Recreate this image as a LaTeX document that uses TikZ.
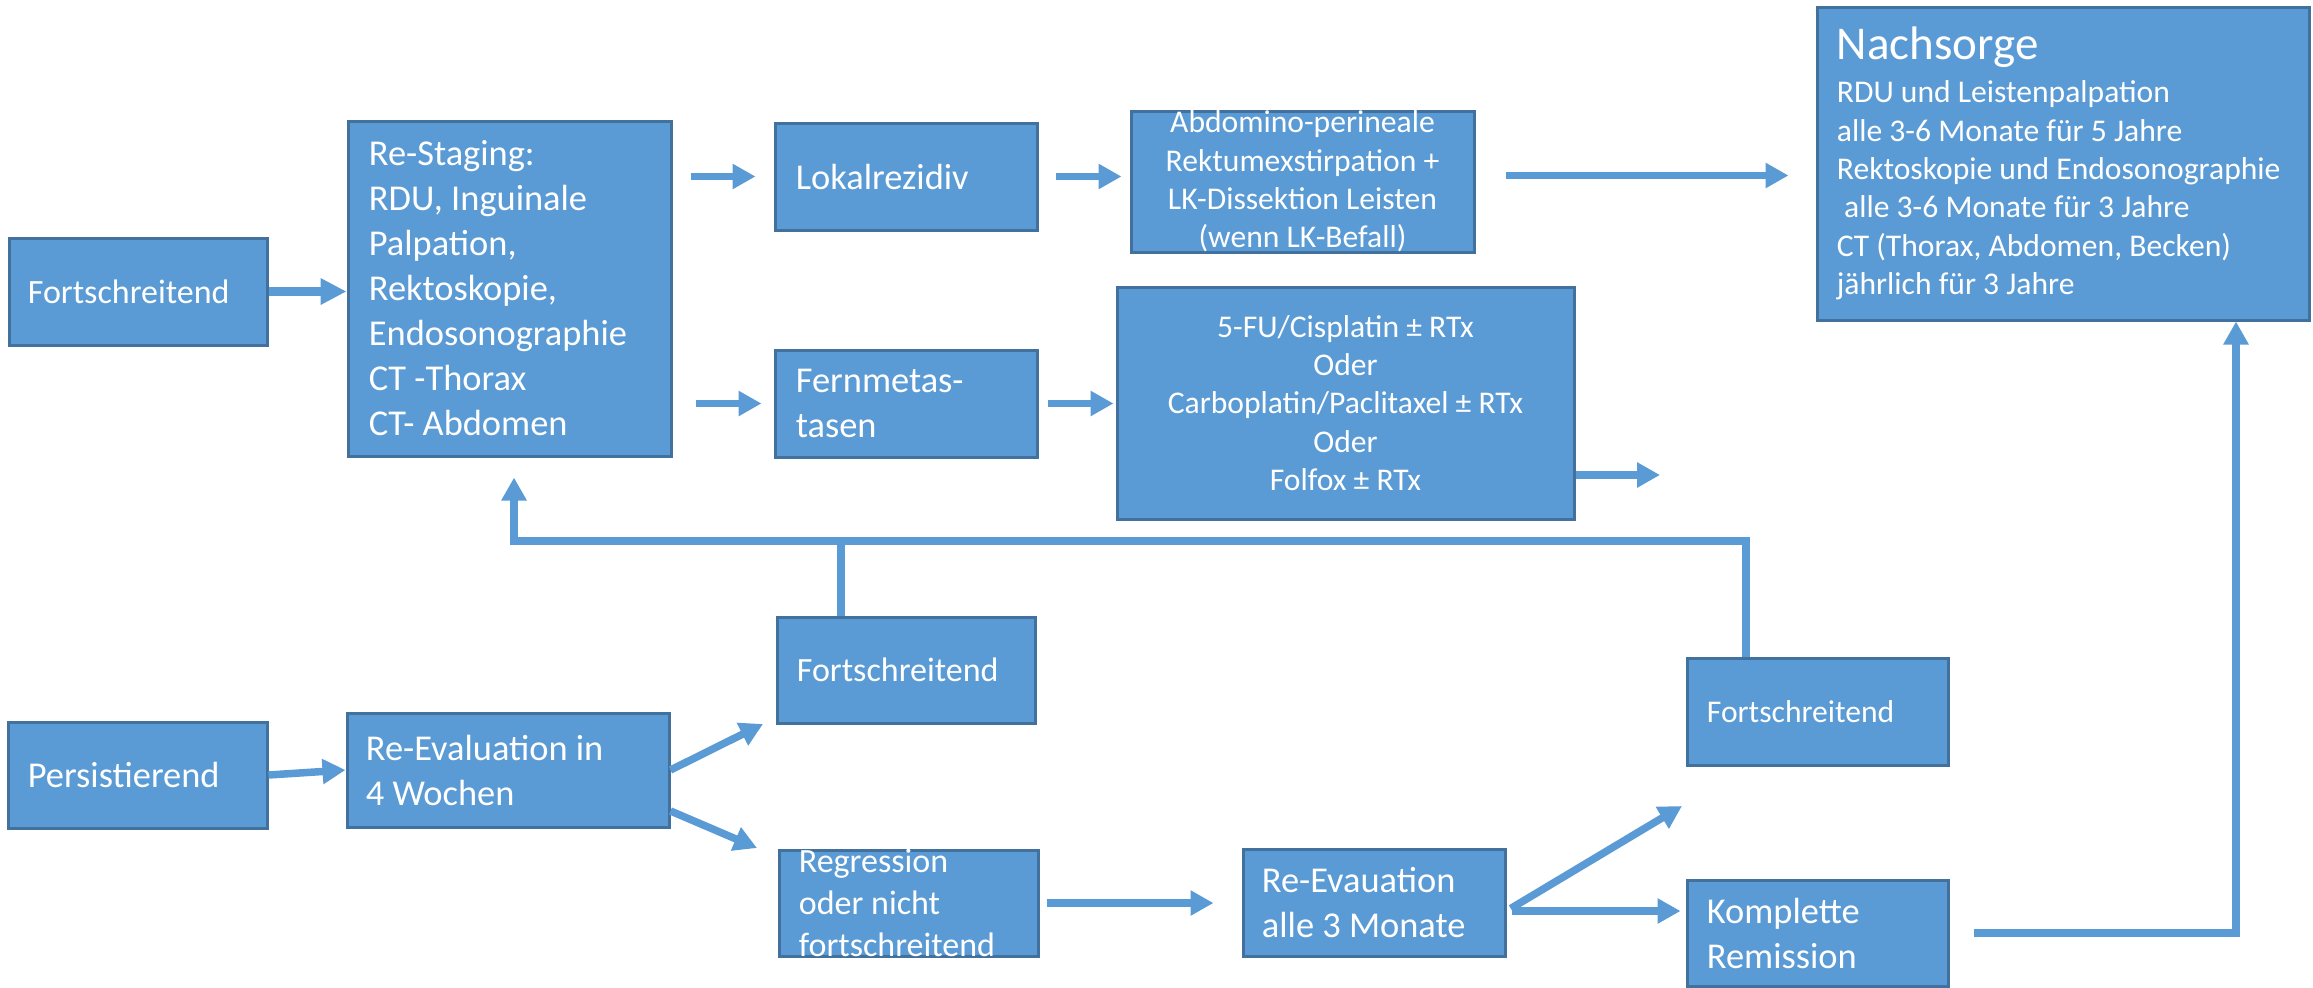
\documentclass[tikz,border=0pt]{standalone}
\usepackage{fontspec}
\setmainfont{Carlito}
\usetikzlibrary{arrows.meta,calc}
\definecolor{boxfill}{HTML}{5B9BD5}
\definecolor{boxline}{HTML}{41719C}
\definecolor{arrowc}{HTML}{5B9BD5}
\begin{document}
\begin{tikzpicture}[x=0.5pt,y=-0.5pt,
  box/.style n args={2}{draw=boxline, fill=boxfill, line width=1.5pt, inner sep=0pt, minimum width=#1, minimum height=#2},
  lbl/.style={text=white, inner sep=0pt, align=left},
  big/.style={font=\fontsize{18.2}{22.5}\selectfont},
  mid/.style={font=\fontsize{17}{21}\selectfont},
  small/.style={font=\fontsize{15.8}{19.2}\selectfont},
  conn/.style={draw=arrowc, line width=3.75pt, line join=miter},
  arr/.style={conn, -{Triangle[length=11.5pt,width=12pt]}},
  arrbig/.style={draw=arrowc, line width=4.5pt, -{Triangle[length=13pt,width=12.5pt]}},
]
\useasboundingbox (0,0) rectangle (2313,987);
\fill[white] (0,0) rectangle (2313,987);

% boxes
\node[box={129pt}{53.5pt}] (fL) at (138,291.5) {};
\node[box={161.5pt}{167.5pt}] (rs) at (509.5,288.5) {};
\node[box={131pt}{53.5pt}] (lok) at (906,176.5) {};
\node[box={171.5pt}{70.5pt}] (abd) at (1302.5,181.5) {};
\node[box={131pt}{53.5pt}] (fer) at (906,403.5) {};
\node[box={228.5pt}{116pt}] (chemo) at (1345.5,403) {};
\node[box={246pt}{156.5pt}] (nach) at (2063,163.5) {};
\node[box={129pt}{53pt}] (fM) at (906,670) {};
\node[box={129.5pt}{53pt}] (pers) at (137.5,775) {};
\node[box={161pt}{57pt}] (re4) at (508,770) {};
\node[box={129.5pt}{53pt}] (reg) at (908.5,903) {};
\node[box={131pt}{53.5pt}] (re3) at (1374,902.5) {};
\node[box={130.5pt}{53.5pt}] (fR) at (1817.5,711.5) {};
\node[box={130.5pt}{53pt}] (kom) at (1817.5,933) {};

% labels
\node[lbl, mid, anchor=west] (fLt) at ([xshift=10pt]fL.west) {Fortschreitend};
\node[lbl, big, anchor=west] (rst) at ([xshift=11pt]rs.west) {Re-Staging:\\RDU, Inguinale\\Palpation,\\Rektoskopie,\\Endosonographie\\CT -Thorax\\CT- Abdomen};
\node[lbl, big, anchor=west] (lokt) at ([xshift=11pt]lok.west) {Lokalrezidiv};
\node[lbl, small, align=center] (abdt) at (abd.center) {Abdomino-perineale\\Rektumexstirpation +\\LK-Dissektion Leisten\\(wenn LK-Befall)};
\node[lbl, big, anchor=west] (fert) at ([xshift=11pt]fer.west) {Fernmetas-\\tasen};
\node[lbl, small, align=center] (chemot) at (chemo.center) {5-FU/Cisplatin ± RTx\\Oder\\Carboplatin/Paclitaxel ± RTx\\Oder\\Folfox ± RTx};
\node[lbl, small, anchor=west] (nacht) at ([xshift=10.5pt]nach.west) {{\fontsize{23.5}{28}\selectfont Nachsorge}\\[2.3pt]RDU und Leistenpalpation\\alle 3-6 Monate für 5 Jahre\\Rektoskopie und Endosonographie\\\hspace*{0.23em}alle 3-6 Monate für 3 Jahre\\CT (Thorax, Abdomen, Becken)\\jährlich für 3 Jahre};
\node[lbl, mid, anchor=west] (fMt) at ([xshift=10.5pt]fM.west) {Fortschreitend};
\node[lbl, big, anchor=west] (perst) at ([xshift=10.5pt]pers.west) {Persistierend};
\node[lbl, big, anchor=west] (re4t) at ([xshift=10pt]re4.west) {Re-Evaluation in\\4 Wochen};
\node[lbl, mid, anchor=west] (regt) at ([xshift=10.5pt]reg.west) {Regression\\oder nicht\\fortschreitend};
\node[lbl, big, anchor=west] (re3t) at ([xshift=10pt]re3.west) {Re-Evauation\\alle 3 Monate};
\node[lbl, small, anchor=west] (fRt) at ([xshift=10.5pt]fR.west) {Fortschreitend};
\node[lbl, big, anchor=west] (komt) at ([xshift=10.5pt]kom.west) {Komplette\\Remission};

% free ends
\coordinate (chemoOut) at (1660,475);
\coordinate (loopL) at (514,541);
\coordinate (loopR) at (1746,541);
\coordinate (midJ) at (841,541);
\coordinate (up1) at (763,724);
\coordinate (dn1) at (757,848);
\coordinate (up2) at (1682,806);
\coordinate (corner) at (2236,933);

% connectors
\draw[arrbig] (fL.east) -- (fL.east -| rs.west);
\draw[arr, shorten <=9pt, shorten >=9pt] (rs.east |- lok.west) -- (lok.west);
\draw[arr, shorten <=11.5pt, shorten >=6pt] (rs.east |- fer.west) -- (fer.west);
\draw[arr, shorten <=8.5pt, shorten >=4pt] (lok.east) -- (lok.east -| abd.west);
\draw[arr, shorten <=4.5pt, shorten >=1pt] (fer.east) -- (fer.east -| chemo.west);
\draw[arr, shorten <=15pt, shorten >=13.5pt] ([yshift=3pt]abd.east) -- ([yshift=3pt]abd.east -| nach.west);
\draw[arr] (chemo.east |- chemoOut) -- (chemoOut);
\draw[arr, shorten >=10pt] (loopR |- fR.north) -- (loopR) -- (loopL) -- (loopL |- rs.south);
\draw[conn] (midJ |- fM.north) -- (midJ);
\draw[arr] (pers.east) -- (re4.west);
\draw[arr] (re4.east) -- (up1);
\draw[arr] ($(re4.east)!0.7!(re4.south east)$) -- (dn1);
\draw[arr, shorten <=3.5pt, shorten >=14pt] (reg.east) -- (reg.east -| re3.west);
\draw[arr, shorten <=2.5pt] ([yshift=-4.25pt]re3.east) -- (up2);
\draw[arr, shorten <=2.5pt, shorten >=2.5pt] ([yshift=-4.25pt]re3.east) -- ([yshift=-4.25pt]re3.east -| kom.west);
\draw[arr, shorten <=12pt] (kom.east) -- (corner) -- (corner |- nach.south);
\end{tikzpicture}
\end{document}
